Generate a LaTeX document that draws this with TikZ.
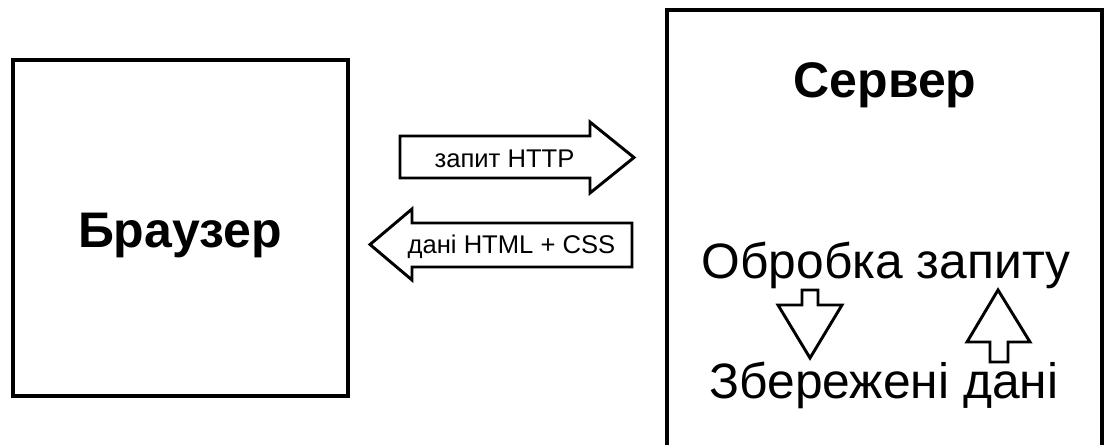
\documentclass[tikz,border=0pt]{standalone}
\usepackage{fontspec}
\setmainfont{Liberation Sans}
\begin{document}
\begin{tikzpicture}[x=0.75pt,y=-0.75pt,
  box/.style={draw=black,line width=2.6pt},
  blockarrow/.style={draw=black,line width=2.2pt,line join=miter,fill=white},
  title/.style={font=\fontsize{37.5}{40}\selectfont\bfseries,inner sep=0pt,anchor=base},
  bigtext/.style={font=\fontsize{37.3}{40}\selectfont,inner sep=0pt,anchor=base},
  small/.style={font=\fontsize{19.2}{22}\selectfont,inner sep=0pt,anchor=base}]
\clip (0,0) rectangle (1105,444);
\fill[white] (0,0) rectangle (1105,444);
% boxes
\draw[box] (13,60) rectangle (348,396);
\coordinate (srvNW) at (667,10);
\coordinate (srvSE) at (1102,470);
\draw[box] (srvNW) rectangle (srvSE);
\node[title] (browser) at (180,247) {Браузер};
\node[title] (server) at (885,97) {Сервер};
% request arrow
\draw[blockarrow] (400,136) -- (590,136) -- (590,122) -- (634,157.5) -- (590,193) -- (590,178) -- (400,178) -- cycle;
\node[small] (req) at (504.5,167) {запит HTTP};
% response arrow
\draw[blockarrow] (632,223) -- (412,223) -- (412,209) -- (370,244.5) -- (412,280) -- (412,267) -- (632,267) -- cycle;
\node[small] (resp) at (511.5,253) {дані HTML + CSS};
% server inner texts
\node[bigtext] (proc) at (886,278) {Обробка запиту};
\node[bigtext] (store) at (884,398) {Збережені дані};
% down arrow
\draw[blockarrow] (802,290) -- (818,290) -- (818,305) -- (842,305) -- (810,358) -- (778,305) -- (802,305) -- cycle;
% up arrow
\draw[blockarrow] (998,290) -- (1030,342) -- (1008,342) -- (1008,362) -- (990,362) -- (990,342) -- (967,342) -- cycle;
\end{tikzpicture}
\end{document}
